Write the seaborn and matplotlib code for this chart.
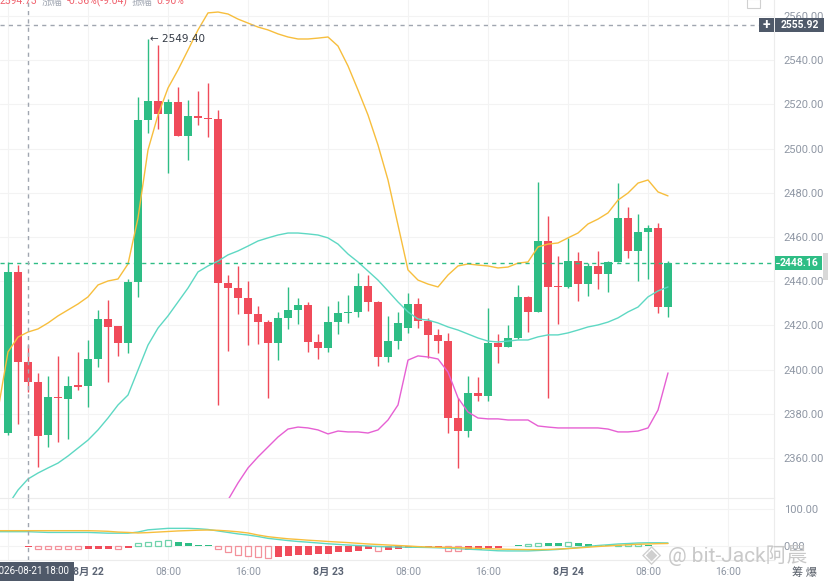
import numpy as np
import pandas as pd
import matplotlib
matplotlib.use("Agg")
import matplotlib.pyplot as plt
import seaborn as sns

sns.set_style("white")
plt.rcParams['font.family'] = ['Roboto', 'Noto Sans CJK SC', 'DejaVu Sans']

# ---- data: ETH 1h candles, 2026-08-21 16:00 -> 2026-08-24 10:00 ----
start_time = "2026-08-21 16:00"

opens = [2371.5, 2444.3, 2403.6, 2394.5, 2370.4, 2387.7, 2386.7, 2393.0, 2392.7, 2404.9,
         2422.8, 2419.7, 2412.2, 2439.8, 2512.9, 2521.5, 2515.5, 2521.2, 2505.7, 2514.8,
         2513.7, 2513.3, 2439.0, 2436.8, 2432.3, 2425.2, 2421.4, 2411.9, 2423.2, 2427.0,
         2429.2, 2412.6, 2409.9, 2421.7, 2425.5, 2426.2, 2437.8, 2430.7, 2405.8, 2413.1,
         2418.7, 2429.7, 2422.0, 2415.7, 2413.0, 2378.0, 2372.4, 2389.3, 2388.1, 2411.9,
         2410.4, 2414.2, 2433.0, 2426.2, 2458.3, 2437.8, 2437.2, 2449.3, 2438.7, 2447.0,
         2443.3, 2448.8, 2468.7, 2453.8, 2462.1, 2464.2, 2428.2]
highs = [2448.8, 2447.3, 2411.1, 2398.6, 2397.1, 2406.2, 2397.1, 2408.1, 2413.4, 2427.0,
         2431.5, 2419.9, 2441.0, 2523.5, 2549.4, 2546.9, 2522.3, 2527.7, 2522.0, 2526.1,
         2529.8, 2517.5, 2442.8, 2446.9, 2440.2, 2428.8, 2422.4, 2426.2, 2437.5, 2432.5,
         2430.5, 2416.1, 2428.9, 2431.0, 2433.8, 2443.9, 2442.8, 2431.0, 2424.3, 2426.2,
         2434.5, 2432.3, 2423.2, 2418.2, 2416.4, 2387.0, 2397.1, 2396.8, 2428.0, 2416.0,
         2420.2, 2438.3, 2433.5, 2485.0, 2469.5, 2451.4, 2459.4, 2453.4, 2448.4, 2453.8,
         2449.0, 2484.3, 2473.4, 2470.4, 2465.4, 2466.2, 2449.3]
lows = [2370.4, 2375.4, 2390.0, 2356.1, 2365.1, 2367.1, 2368.5, 2390.8, 2383.2, 2401.3,
        2394.3, 2406.2, 2407.4, 2433.0, 2507.2, 2508.7, 2488.8, 2505.5, 2494.8, 2510.7,
        2505.1, 2384.0, 2408.6, 2425.2, 2411.1, 2411.6, 2387.0, 2404.3, 2418.4, 2420.5,
        2408.1, 2404.8, 2408.1, 2416.1, 2421.0, 2423.7, 2426.7, 2401.6, 2403.6, 2409.3,
        2416.7, 2418.7, 2405.1, 2407.4, 2371.2, 2355.3, 2369.4, 2385.9, 2385.9, 2402.9,
        2410.0, 2414.0, 2417.1, 2426.0, 2387.0, 2420.6, 2437.0, 2431.2, 2433.3, 2436.3,
        2435.3, 2448.5, 2450.4, 2440.2, 2440.9, 2425.7, 2423.7]
closes = [2444.3, 2403.6, 2394.5, 2370.1, 2387.7, 2387.0, 2392.6, 2392.2, 2404.9, 2422.8,
          2419.4, 2412.2, 2439.8, 2512.9, 2521.5, 2515.5, 2521.2, 2505.7, 2514.8, 2513.7,
          2513.3, 2439.0, 2436.8, 2432.3, 2425.2, 2421.4, 2411.9, 2423.2, 2427.0, 2429.2,
          2412.6, 2409.9, 2421.7, 2425.5, 2426.2, 2437.8, 2430.7, 2405.8, 2413.1, 2421.0,
          2429.7, 2422.0, 2415.7, 2413.0, 2378.0, 2372.4, 2389.3, 2388.1, 2411.9, 2410.4,
          2414.2, 2433.0, 2426.2, 2458.3, 2437.5, 2437.2, 2449.3, 2438.7, 2447.0, 2443.3,
          2448.8, 2468.7, 2453.8, 2462.1, 2464.2, 2428.2, 2448.16]

# Bollinger bands; upper / middle start one bar before the first full candle
boll_upper = [2381.7,
              2408.0, 2414.7, 2417.0, 2418.4, 2421.1, 2424.3, 2427.0, 2429.7, 2432.9, 2438.3,
              2440.1, 2441.0, 2447.8, 2468.6, 2499.4, 2515.2, 2527.4, 2535.6, 2544.6, 2553.7,
              2561.4, 2561.8, 2560.9, 2558.6, 2556.8, 2555.0, 2553.7, 2551.9, 2550.5, 2549.6,
              2549.6, 2550.0, 2550.5, 2546.4, 2537.4, 2526.5, 2515.2, 2501.6, 2485.8, 2465.4,
              2445.1, 2440.5, 2438.7, 2437.4, 2442.8, 2446.9, 2447.8, 2447.3, 2446.9, 2446.0,
              2446.4, 2448.2, 2448.7, 2455.5, 2456.8, 2457.3, 2459.6, 2461.8, 2465.9, 2468.1,
              2470.9, 2476.7, 2479.9, 2484.4, 2485.8, 2480.4, 2478.6]
boll_mid = [2332.0,
            2338.7, 2345.5, 2350.5, 2353.2, 2355.5, 2357.7, 2360.9, 2364.5, 2368.1, 2372.7,
            2378.1, 2384.0, 2388.5, 2399.8, 2411.1, 2418.8, 2424.3, 2430.6, 2436.9, 2444.2,
            2446.9, 2449.1, 2451.9, 2453.7, 2455.9, 2458.2, 2459.6, 2460.9, 2461.8, 2461.8,
            2461.4, 2460.9, 2459.6, 2456.8, 2452.3, 2448.7, 2444.6, 2440.5, 2435.6, 2430.6,
            2426.1, 2422.9, 2422.4, 2421.1, 2419.3, 2417.9, 2416.1, 2414.3, 2412.9, 2412.5,
            2412.9, 2413.4, 2413.4, 2414.8, 2415.7, 2415.7, 2416.6, 2417.9, 2419.3, 2420.2,
            2421.5, 2423.4, 2426.1, 2428.3, 2432.9, 2435.6, 2437.4]
# lower band only enters the visible range from bar 21
lower_start = 21
boll_lower = [2332.9, 2341.0, 2348.7, 2355.5, 2360.5, 2365.0, 2369.5, 2373.1, 2374.0, 2373.6,
              2372.7, 2370.9, 2372.2, 2371.8, 2371.8, 2371.3, 2372.7, 2377.2, 2384.0, 2404.3,
              2406.2, 2405.7, 2404.8, 2398.9, 2387.2, 2380.8, 2378.1, 2377.7, 2377.7, 2377.2,
              2377.2, 2377.2, 2374.5, 2374.0, 2373.6, 2373.6, 2373.6, 2373.6, 2373.6, 2373.1,
              2371.8, 2371.8, 2372.2, 2373.6, 2381.7, 2398.5]

# MACD panel
macd_dif = [40,
            40, 40, 40, 39, 38, 38, 38, 38, 38, 37,
            36, 36, 36, 39, 45, 47, 49, 49, 49, 48,
            46, 42, 38, 34, 31, 27, 22, 19, 16, 13.5,
            11.6, 9.5, 7.3, 5.7, 4, 2.7, 1.4, 0, -1, -1.4,
            -2, -2.2, -2.7, -3.5, -4.6, -6, -7.3, -8.6, -10, -11.6,
            -12, -12, -12, -10.8, -9.5, -8, -5.4, -2.7, 0, 2.7,
            4.6, 6.8, 8, 9.5, 10, 10, 9.5]
macd_dea = [42.7,
            42.7, 42.7, 42.7, 42.7, 42.7, 42.7, 42.7, 42.7, 42.7, 42,
            41, 39, 38, 36.5, 37.5, 39, 40.5, 42, 43, 44,
            44.5, 43.7, 42, 39.7, 36.5, 31, 26.5, 23.5, 20.8, 19,
            17, 15.4, 13.5, 12, 10.5, 8.6, 6.8, 5.4, 4, 2.7,
            1.4, -0.3, -1.4, -2, -2.4, -3.2, -4, -4.9, -6, -6.8,
            -7.6, -8, -8.4, -8.4, -8, -6.8, -5.7, -4, -2, 0,
            1.4, 3.2, 4.6, 6, 6.8, 7.6, 8.1]
macd_hist = [1, 1, -1, -8, -8, -8, -8, -8, -8, -8,
             -8, -6, -3, 9, 13, 16, 18, 12, 9, 4,
             3, -8, -15, -23, -26, -28, -30, -28, -26, -24,
             -23, -20, -19, -15, -14, -11, -8, -11, -10, -8,
             -5, -4, -4, -3, -11, -12, -10, -9, -5, -4,
             2, 3, 6, 10, 10, 10, 11, 9, 7, 4,
             3, 5, 6, 6, 4, 2, 1]
hist_hollow = [0, 0, 0, 1, 1, 1, 1, 1, 0, 0,
               0, 1, 0, 1, 1, 1, 1, 0, 0, 0,
               0, 1, 1, 1, 1, 1, 1, 0, 0, 0,
               0, 0, 0, 0, 0, 0, 0, 1, 0, 0,
               0, 0, 0, 0, 1, 1, 0, 0, 0, 0,
               0, 0, 1, 1, 0, 0, 1, 0, 0, 0,
               0, 1, 1, 1, 0, 0, 0]

price_ticks = [2360, 2380, 2400, 2420, 2440, 2460, 2480, 2500, 2520, 2540, 2560]
macd_ticks = [0, 100]
cross_price = 2555.92
cross_label = "2026-08-21 18:00"
peak_label = "2549.40"
header = [("2594.73", "#f0616d"), ("涨幅", "#a3a9b4"), ("-0.36%(-9.04)", "#f0616d"),
          ("振幅", "#a3a9b4"), ("0.90%", "#f0616d")]

# ---- colours ----
UP = "#2ebd85"
DOWN = "#f04b5a"
UP_HOLLOW = "#6fd3ab"
DOWN_HOLLOW = "#f3919b"
C_UPPER = "#f7be3d"
C_MID = "#5ed8c3"
C_LOWER = "#e660d3"
GRID = "#f3f3f3"
AXIS_TXT = "#8f97a4"
TAG_DARK = "#4f5969"

W, H = 829, 583
fig = plt.figure(figsize=(W / 100, H / 100), dpi=100)
ax = fig.add_axes([0, 1 - 498 / H, 774 / W, 498 / H])
ax2 = fig.add_axes([0, 1 - 560 / H, 774 / W, 62 / H], sharex=ax)

n = len(opens)
idx = np.arange(n)
band_idx = np.arange(-1, n)
times = pd.date_range(start_time, periods=n + 10, freq="h")

df = pd.DataFrame({"open": opens, "high": highs, "low": lows, "close": closes}, index=idx)
df["up"] = df["close"] >= df["open"]
colors = np.where(df["up"], UP, DOWN)

# candles
ax.vlines(idx, df["low"], df["high"], colors=colors, lw=1, zorder=2)
body_h = np.maximum((df["close"] - df["open"]).abs(), 0.55)
body_b = np.minimum(df["open"], df["close"])
ax.bar(idx, body_h, bottom=body_b, width=0.72, color=colors, lw=0, zorder=2)

# bollinger bands
sns.lineplot(x=band_idx, y=boll_upper, ax=ax, color=C_UPPER, lw=1, zorder=3)
sns.lineplot(x=band_idx, y=boll_mid, ax=ax, color=C_MID, lw=1, zorder=3)
sns.lineplot(x=np.arange(lower_start, lower_start + len(boll_lower)), y=boll_lower,
             ax=ax, color=C_LOWER, lw=1, zorder=3)

# crosshair + last price lines
ax.axhline(cross_price, xmax=1 - 15 / 774, color="#a0a6b0", lw=1, ls=(0, (3, 3)), zorder=4)
ax.axhline(closes[-1], color=UP, lw=1, ls=(0, (3, 3)), zorder=4)
cross_i = list(times).index(pd.Timestamp(cross_label))
for a in (ax, ax2):
    a.axvline(cross_i, color="#a0a6b0", lw=1, ls=(0, (3, 3)), zorder=4)

# high annotation
hi_i = int(np.argmax(highs))
ax.text(hi_i + 0.2, highs[hi_i], "\u2190 " + peak_label, fontsize=7.5, color="#333a45",
        va="center", ha="left", family=["DejaVu Sans"], zorder=5)

# macd panel
hist = np.array(macd_hist, dtype=float)
for i, v in enumerate(hist):
    base = UP if v >= 0 else DOWN
    if hist_hollow[i]:
        edge = UP_HOLLOW if v >= 0 else DOWN_HOLLOW
        ax2.bar(i, v, width=0.62, facecolor="white", edgecolor=edge, lw=0.9, zorder=2)
    else:
        ax2.bar(i, v, width=0.7, color=base, lw=0, zorder=2)
sns.lineplot(x=band_idx, y=macd_dif, ax=ax2, color=C_MID, lw=1, zorder=3)
sns.lineplot(x=band_idx, y=macd_dea, ax=ax2, color=C_UPPER, lw=1, zorder=3)

# limits
ax.set_xlim(-0.8, 76.6)
ax.set_ylim(2341.9, 2567.24)
ax2.set_ylim(-36.5, 131)

# axes styling
for a in (ax, ax2):
    for s in a.spines.values():
        s.set_visible(False)
    a.spines["right"].set_visible(True)
    a.spines["right"].set_color("#ececec")
    a.grid(True, color=GRID, lw=0.8)
    a.set_axisbelow(True)
    a.yaxis.tick_right()
    a.tick_params(axis="y", length=0, pad=7, labelsize=8, colors=AXIS_TXT)
ax2.spines["top"].set_visible(True)
ax2.spines["top"].set_color("#ececec")
ax2.spines["bottom"].set_visible(True)
ax2.spines["bottom"].set_color("#ececec")

ax.set_yticks(price_ticks)
ax.set_yticklabels([f"{v:.2f}" for v in price_ticks])
ax2.set_yticks(macd_ticks)
ax2.set_yticklabels([f"{v:.2f}" for v in macd_ticks])

tick_pos = [i for i, t in enumerate(times) if t.hour % 8 == 0]
tick_lbl = [f"{t.month}月 {t.day}" if t.hour == 0 else t.strftime("%H:%M")
            for t in times if t.hour % 8 == 0]
ax2.set_xticks(tick_pos)
ax2.set_xticklabels(tick_lbl)
ax.tick_params(axis="x", labelbottom=False, length=0)
ax2.tick_params(axis="x", length=0, pad=5, labelsize=7.5, colors=AXIS_TXT)
for lab in ax2.get_xticklabels():
    if "月" in lab.get_text():
        lab.set_color("#5b6474")
        lab.set_fontweight("bold")
ax.set_xlabel("")
ax2.set_xlabel("")

# price tags on the right axis (box drawn as a patch, text on top)
yt = ax.get_yaxis_transform()
tag_h = 14 / 2.21  # 14 px tall in price units


def price_tag(price, text, fc, x0_px, x1_px, text_px, size=7.5):
    ax.add_patch(plt.Rectangle((1 + x0_px / 774, price - tag_h / 2), (x1_px - x0_px) / 774, tag_h,
                               transform=yt, fc=fc, ec="none", clip_on=False, zorder=6))
    ax.text(1 + text_px / 774, price, text, transform=yt, ha="center", va="center",
            fontsize=size, color="white", fontweight="bold", clip_on=False, zorder=7)


price_tag(cross_price, f"{cross_price:.2f}", TAG_DARK, 1, 50, 25.5)
price_tag(cross_price, "+", TAG_DARK, -15, 0, -7.5, size=10)
price_tag(closes[-1], f"{closes[-1]:.2f}", UP, 1, 48, 25.5)
ax.plot([1 + 2 / 774, 1 + 5 / 774], [closes[-1]] * 2, transform=yt, color="white", lw=0.8,
        clip_on=False, zorder=7)

# scroll handle + corner icon
fig.patches.append(plt.Rectangle((823 / W, 1 - 280 / H), 6 / W, 27 / H, fc="#d8d8d8", ec="none",
                                 transform=fig.transFigure, figure=fig))
fig.patches.append(plt.Rectangle((747 / W, 1 - 8 / H), 13 / W, 9 / H, fc="white", ec="#d0d0d0",
                                 lw=0.8, transform=fig.transFigure, figure=fig))

# crosshair time tag (left part cut by the figure edge, as in the screenshot)
fig.text(31 / W, 1 - 571.5 / H, cross_label, ha="center", va="center", fontsize=7,
         color="white", bbox=dict(boxstyle="square,pad=0.5", fc=TAG_DARK, ec="none"))

# header line (clipped by the top edge), chained left to right
fig.canvas.draw()
renderer = fig.canvas.get_renderer()
x_px = 0
for txt, col in header:
    t = fig.text(x_px / W, 1 - 4.5 / H, txt, ha="left", va="baseline", fontsize=7.5, color=col)
    x_px = t.get_window_extent(renderer).x1 + 4

fig.text(792 / W, 1 - 573 / H, "筹 爆", ha="left", va="center", fontsize=8, color="#555c66")

# watermark
fig.text(652 / W, 1 - 555 / H, "◈", ha="center", va="center", fontsize=18, color="#cfcfcf",
         family=["DejaVu Sans"])
fig.text(668 / W, 1 - 555 / H, "@ bit-Jack阿晨", ha="left", va="center", fontsize=15,
         color="#c4c4c4", alpha=0.9)

fig.savefig("out.png", dpi=100)
